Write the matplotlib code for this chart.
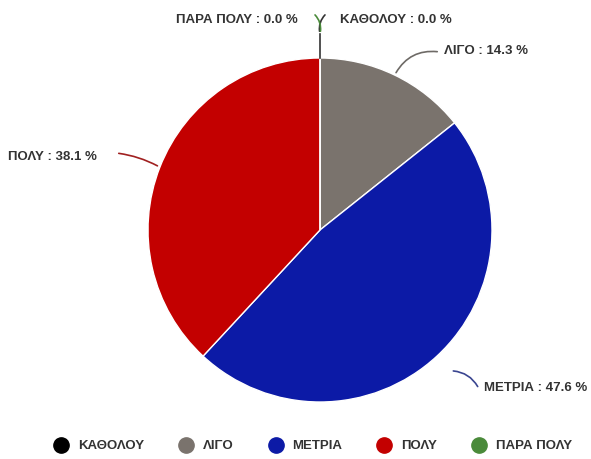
import numpy as np
import matplotlib.pyplot as plt
from matplotlib.lines import Line2D

plt.rcParams['font.family'] = ['Liberation Sans', 'DejaVu Sans']

labels = ["ΚΑΘΟΛΟΥ", "ΛΙΓΟ", "ΜΕΤΡΙΑ", "ΠΟΛΥ", "ΠΑΡΑ ΠΟΛΥ"]
values = [0.0, 14.3, 47.6, 38.1, 0.0]
colors = ["#000000", "#7a736d", "#0c1aa6", "#c30000", "#4a8a3a"]
line_colors = ["#333333", "#6e6a66", "#3a4590", "#a02020", "#4a8a3a"]

W, H = 591, 459
fig = plt.figure(figsize=(W / 100, H / 100), dpi=100)
ax = fig.add_axes([0, 0, 1, 1])

cx, cy, r = 320, H - 230, 172
ax.pie(values, colors=colors, startangle=90, counterclock=False,
       center=(cx, cy), radius=r, frame=True,
       wedgeprops=dict(edgecolor='white', linewidth=1))
ax.set_xlim(0, W)
ax.set_ylim(0, H)
ax.set_aspect('equal')
ax.axis('off')


def edge_point(i, extra=0):
    start = 90 - 3.6 * sum(values[:i])
    mid = np.radians(start - 3.6 * values[i] / 2)
    return cx + (r + extra) * np.cos(mid), cy + (r + extra) * np.sin(mid)


txt = dict(fontsize=9.5, fontweight='bold', color='#333333', va='center')

# ΛΙΓΟ
x0, y0 = edge_point(1, 0)
ax.annotate("", xy=(x0, y0), xytext=(440, H - 52),
            arrowprops=dict(arrowstyle='-', color=line_colors[1], lw=1.2,
                            connectionstyle='arc3,rad=0.35'))
ax.text(444, H - 51, f"{labels[1]} : {values[1]:.1f} %", ha='left', **txt)

# ΜΕΤΡΙΑ
x0, y0 = edge_point(2, 20)
ax.annotate("", xy=(x0, y0), xytext=(479, H - 389),
            arrowprops=dict(arrowstyle='-', color=line_colors[2], lw=1.2,
                            connectionstyle='arc3,rad=0.3'))
ax.text(484, H - 388, f"{labels[2]} : {values[2]:.1f} %", ha='left', **txt)

# ΠΟΛΥ
x0, y0 = edge_point(3, 0)
ax.annotate("", xy=(x0, y0), xytext=(116, H - 153),
            arrowprops=dict(arrowstyle='-', color=line_colors[3], lw=1.2,
                            connectionstyle='arc3,rad=-0.1'))
ax.text(8, H - 157, f"{labels[3]} : {values[3]:.1f} %", ha='left', **txt)

# zero slices at the top
x0, y0 = edge_point(0, 0)
ax.plot([x0, x0], [y0, H - 34], color=line_colors[0], lw=1.2)
ax.annotate("", xy=(x0, H - 34), xytext=(x0 + 7, H - 13),
            arrowprops=dict(arrowstyle='-', color=line_colors[0], lw=1.2,
                            connectionstyle='arc3,rad=0.3'))
ax.annotate("", xy=(x0, H - 34), xytext=(x0 - 7, H - 13),
            arrowprops=dict(arrowstyle='-', color=line_colors[4], lw=1.2,
                            connectionstyle='arc3,rad=-0.3'))
ax.text(340, H - 20, f"{labels[0]} : {values[0]:.1f} %", ha='left', **txt)
ax.text(298, H - 20, f"{labels[4]} : {values[4]:.1f} %", ha='right', **txt)

handles = [Line2D([], [], marker='o', linestyle='', markersize=11,
                  markerfacecolor=c, markeredgecolor=c) for c in colors]
leg = fig.legend(handles, labels, loc='center left', bbox_to_anchor=(39 / W, 1 - 446 / H),
                 ncol=5, frameon=False, handlelength=1.6, handletextpad=0.45,
                 columnspacing=2.4, prop=dict(size=9.5, weight='bold'))
for t in leg.get_texts():
    t.set_color('#333333')

fig.savefig('out.png', dpi=100)
